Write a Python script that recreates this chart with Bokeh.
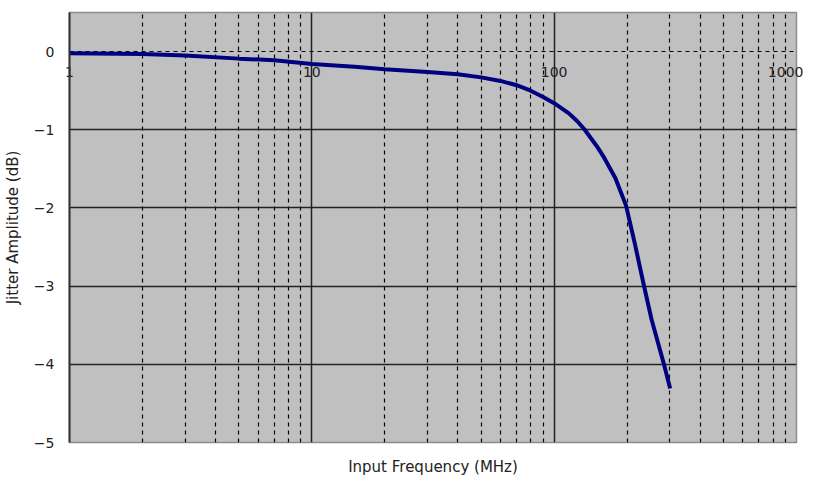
from bokeh.plotting import figure
from bokeh.models import Range1d, FixedTicker, Grid, LogAxis, ColumnDataSource
from bokeh.embed import file_html
from bokeh.resources import INLINE

# ---- data ----
freq_mhz = [1, 2, 3, 5, 7, 10, 15, 20, 30, 40, 50, 60, 70, 80, 90, 100,
            115, 124, 133, 150, 161, 179, 198, 215, 233, 252, 285, 301]
jitter_db = [-0.02, -0.03, -0.05, -0.09, -0.11, -0.16, -0.195, -0.225, -0.26,
             -0.29, -0.33, -0.375, -0.43, -0.50, -0.58, -0.66, -0.79, -0.885,
             -0.99, -1.21, -1.36, -1.62, -1.97, -2.45, -2.95, -3.42, -4.02, -4.31]

x_tick_values = [1, 10, 100, 1000]
x_tick_labels = ["1", "10", "100", "1000"]
x_minor_values = [2, 3, 4, 5, 6, 7, 8, 9, 20, 30, 40, 50, 60, 70, 80, 90,
                  200, 300, 400, 500, 600, 700, 800, 900]
y_tick_values = [0, -1, -2, -3, -4, -5]
y_tick_labels = ["0", "\u22121", "\u22122", "\u22123", "\u22124", "\u22125"]
y_solid_grid = [-1, -2, -3, -4]
y_dashed_grid = [0]

FONT = "DejaVu Sans"

p = figure(width=797, height=475, x_axis_type="log",
           x_range=Range1d(1, 1000), y_range=Range1d(-5, 0.5),
           output_backend="svg", toolbar_location=None,
           frame_width=727, frame_height=430,
           min_border_left=63, min_border_right=7, min_border_top=12, min_border_bottom=33)

p.background_fill_color = "#c0c0c0"
p.border_fill_color = "white"
p.outline_line_color = "#8c8c8c"
p.outline_line_width = 1.5

p.xgrid.visible = False
p.ygrid.visible = False

# grids
p.add_layout(Grid(dimension=0, ticker=FixedTicker(ticks=x_minor_values),
                  grid_line_color="black", grid_line_width=1.2, grid_line_dash="4 4"))
p.add_layout(Grid(dimension=0, ticker=FixedTicker(ticks=[10, 100]),
                  grid_line_color="#222222", grid_line_width=1.5))
p.add_layout(Grid(dimension=1, ticker=FixedTicker(ticks=y_dashed_grid),
                  grid_line_color="black", grid_line_width=1.2, grid_line_dash="4 4"))
p.add_layout(Grid(dimension=1, ticker=FixedTicker(ticks=y_solid_grid),
                  grid_line_color="#222222", grid_line_width=1.5))

# y axis
ya = p.yaxis[0]
ya.ticker = FixedTicker(ticks=y_tick_values)
ya.major_label_overrides = {v: s for v, s in zip(y_tick_values, y_tick_labels)}
ya.major_tick_in = 0
ya.major_tick_out = 0
ya.minor_tick_in = 0
ya.minor_tick_out = 0
ya.axis_line_color = "#333333"
ya.axis_line_width = 2
ya.major_label_text_font = FONT
ya.major_label_text_font_size = "14px"
ya.major_label_text_color = "#222222"
ya.major_label_standoff = 15
ya.axis_label = "Jitter Amplitude (dB)"
ya.axis_label_text_font = FONT
ya.axis_label_text_font_size = "15px"
ya.axis_label_text_font_style = "normal"
ya.axis_label_text_color = "#222222"
ya.axis_label_standoff = 9

# x axis (title only)
xa = p.xaxis[0]
xa.ticker = FixedTicker(ticks=[])
xa.axis_line_color = None
xa.major_tick_in = 0
xa.major_tick_out = 0
xa.minor_tick_in = 0
xa.minor_tick_out = 0
xa.axis_label = "Input Frequency (MHz)"
xa.axis_label_text_font = FONT
xa.axis_label_text_font_size = "15px"
xa.axis_label_text_font_style = "normal"
xa.axis_label_text_color = "#222222"
xa.axis_label_standoff = 15

# x tick labels: an axis on top whose labels reach down to just below the 0 line
xa_top = LogAxis(ticker=FixedTicker(ticks=x_tick_values),
                 major_label_overrides={v: s for v, s in zip(x_tick_values, x_tick_labels)},
                 axis_line_color=None, major_tick_in=0, major_tick_out=0,
                 minor_tick_in=0, minor_tick_out=0,
                 major_label_standoff=-64,
                 major_label_text_font=FONT, major_label_text_font_size="14px",
                 major_label_text_color="#222222")
p.add_layout(xa_top, "above")

# curve
src = ColumnDataSource(data=dict(f=freq_mhz, v=jitter_db))
p.line("f", "v", source=src, line_color="#000080", line_width=4)

open("out.html", "w").write(file_html(p, INLINE))
